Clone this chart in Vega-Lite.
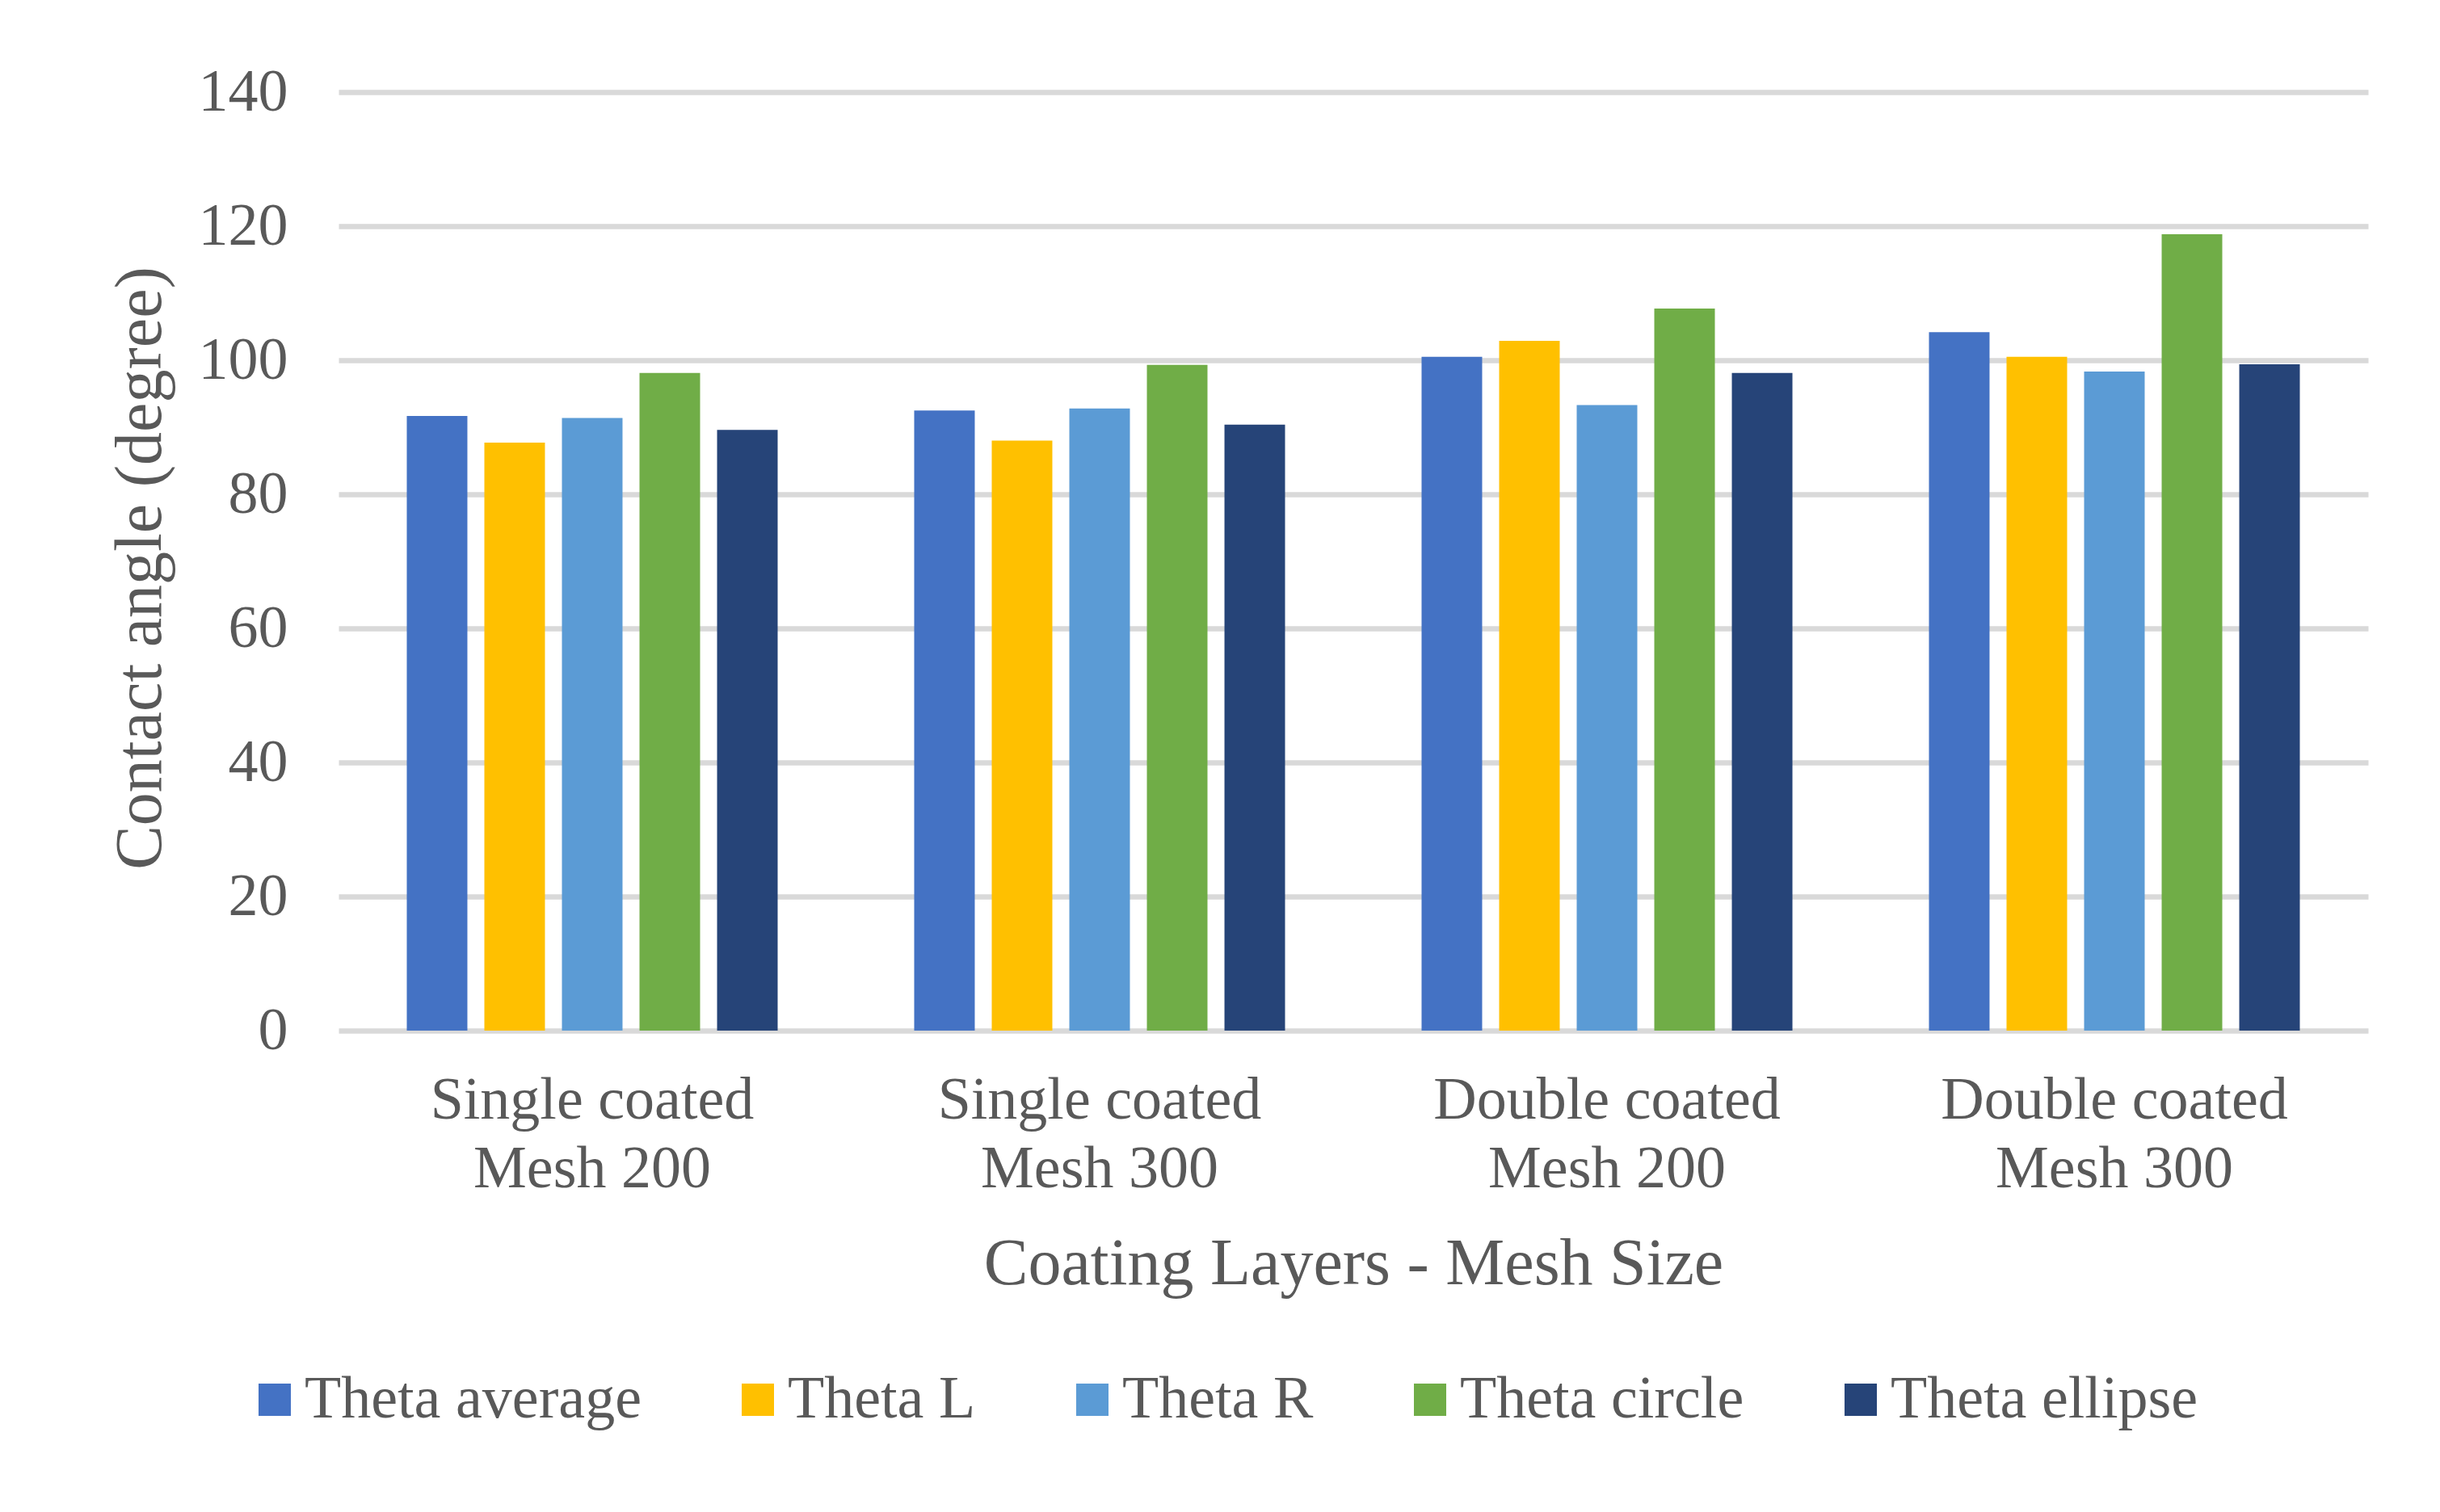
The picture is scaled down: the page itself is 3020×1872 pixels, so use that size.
{
  "$schema": "https://vega.github.io/schema/vega-lite/v6.json",
  "autosize": {"type": "none"},
  "width": 2512,
  "height": 1162,
  "padding": {"left": 419, "top": 114, "right": 89, "bottom": 596},
  "background": "white",
  "data": {
    "values": [
      {"group": "Single coated Mesh 200", "series": "Theta average", "value": 91.7},
      {"group": "Single coated Mesh 200", "series": "Theta L", "value": 87.7},
      {"group": "Single coated Mesh 200", "series": "Theta R", "value": 91.4},
      {"group": "Single coated Mesh 200", "series": "Theta circle", "value": 98.1},
      {"group": "Single coated Mesh 200", "series": "Theta ellipse", "value": 89.6},
      {"group": "Single coated Mesh 300", "series": "Theta average", "value": 92.5},
      {"group": "Single coated Mesh 300", "series": "Theta L", "value": 88.0},
      {"group": "Single coated Mesh 300", "series": "Theta R", "value": 92.8},
      {"group": "Single coated Mesh 300", "series": "Theta circle", "value": 99.3},
      {"group": "Single coated Mesh 300", "series": "Theta ellipse", "value": 90.4},
      {"group": "Double coated Mesh 200", "series": "Theta average", "value": 100.5},
      {"group": "Double coated Mesh 200", "series": "Theta L", "value": 102.9},
      {"group": "Double coated Mesh 200", "series": "Theta R", "value": 93.3},
      {"group": "Double coated Mesh 200", "series": "Theta circle", "value": 107.7},
      {"group": "Double coated Mesh 200", "series": "Theta ellipse", "value": 98.1},
      {"group": "Double coated Mesh 300", "series": "Theta average", "value": 104.2},
      {"group": "Double coated Mesh 300", "series": "Theta L", "value": 100.5},
      {"group": "Double coated Mesh 300", "series": "Theta R", "value": 98.3},
      {"group": "Double coated Mesh 300", "series": "Theta circle", "value": 118.8},
      {"group": "Double coated Mesh 300", "series": "Theta ellipse", "value": 99.4}
    ]
  },
  "mark": {"type": "bar"},
  "encoding": {
    "x": {
      "field": "group",
      "type": "nominal",
      "sort": null,
      "scale": {"paddingInner": 0, "paddingOuter": 0},
      "axis": {
        "title": "Coating Layers - Mesh Size",
        "labelAngle": 0,
        "labelExpr": "[slice(datum.label, 0, indexof(datum.label, ' Mesh')), slice(datum.label, indexof(datum.label, ' Mesh') + 1)]",
        "labelLineHeight": 85,
        "labelPadding": 50,
        "labelBaseline": "top",
        "labelLimit": 0,
        "titleY": 288,
        "titleBaseline": "middle",
        "domain": false,
        "ticks": false,
        "grid": false
      }
    },
    "xOffset": {
      "field": "series",
      "type": "nominal",
      "sort": null,
      "scale": {"paddingInner": 0.219, "paddingOuter": 0.88}
    },
    "y": {
      "field": "value",
      "type": "quantitative",
      "scale": {"domain": [0, 140], "nice": false},
      "axis": {
        "title": "Contact angle (degree)",
        "values": [0, 20, 40, 60, 80, 100, 120, 140],
        "labelPadding": 63,
        "titleX": -246,
        "titleY": 589,
        "titleAngle": -90,
        "titleBaseline": "middle",
        "domain": false,
        "ticks": false,
        "grid": true,
        "gridColor": "#d9d9d9",
        "gridWidth": 6.5
      }
    },
    "color": {
      "field": "series",
      "type": "nominal",
      "sort": null,
      "scale": {
        "domain": ["Theta average", "Theta L", "Theta R", "Theta circle", "Theta ellipse"],
        "range": ["#4472C4", "#FFC000", "#5B9BD5", "#70AD47", "#264478"]
      },
      "legend": {
        "title": null,
        "orient": "none",
        "direction": "horizontal",
        "legendX": -116,
        "legendY": 1582,
        "padding": 0,
        "symbolType": "square",
        "symbolSize": 1600,
        "symbolStrokeWidth": 0,
        "symbolOpacity": 1,
        "labelOffset": 0,
        "columnPadding": 107
      }
    }
  },
  "config": {
    "font": "Liberation Serif",
    "view": {"stroke": null},
    "axis": {
      "labelFont": "Liberation Serif",
      "titleFont": "Liberation Serif",
      "labelFontSize": 74,
      "titleFontSize": 82,
      "labelColor": "#595959",
      "titleColor": "#595959",
      "titleFontWeight": "normal"
    },
    "legend": {
      "labelFont": "Liberation Serif",
      "labelFontSize": 74,
      "labelColor": "#595959",
      "labelLimit": 1000
    }
  }
}
